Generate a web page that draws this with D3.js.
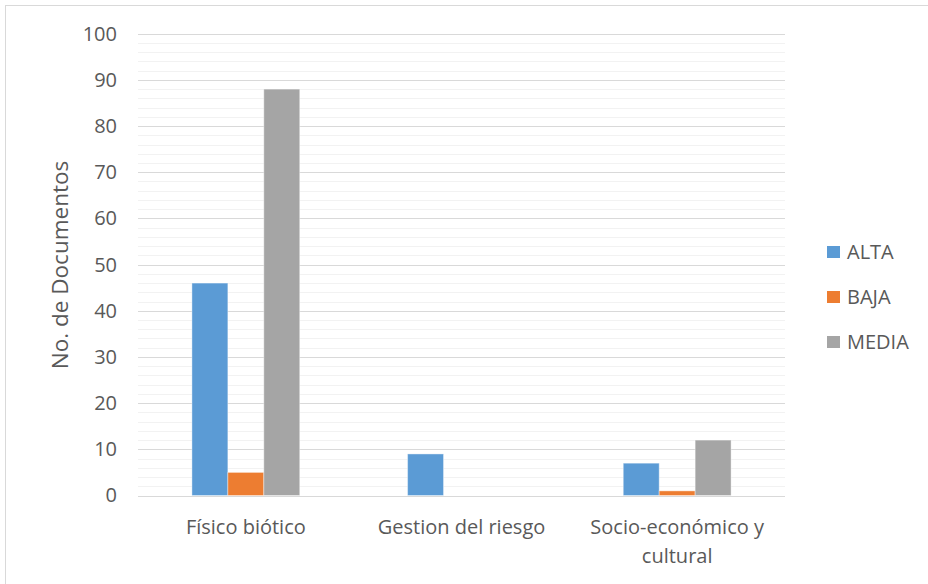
<!DOCTYPE html>
<html><head><meta charset="utf-8">
<script src="https://cdn.jsdelivr.net/npm/d3@7"></script>
<style>body{margin:0;background:#fff}svg{display:block}text{font-family:"Open Sans",sans-serif;fill:#595959}</style>
</head><body><svg id="c" width="928" height="584"></svg>
<script>
const categories = [["Físico biótico"], ["Gestion del riesgo"], ["Socio-económico y", "cultural"]];
const seriesNames = ["ALTA", "BAJA", "MEDIA"];
const alta = [46, 9, 7];
const baja = [5, 0, 1];
const media = [88, 0, 12];
const yTicks = [0, 10, 20, 30, 40, 50, 60, 70, 80, 90, 100];
const colors = ["#5B9BD5", "#ED7D31", "#A5A5A5"];

(function () {
const series = [alta, baja, media];
const svg = d3.select("#c");
svg.append("rect").attr("x", 5.5).attr("y", 5.5).attr("width", 940).attr("height", 600)
  .attr("fill", "none").attr("stroke", "#D9D9D9");

const pl = 138, pr = 785, pt = 33.7, pb = 495.5;
const x = d3.scaleBand().domain(d3.range(categories.length)).range([pl, pr]).paddingInner(0.5).paddingOuter(0.25);
const xs = d3.scaleBand().domain(d3.range(series.length)).range([0, x.bandwidth()]);
const y = d3.scaleLinear().domain([0, 100]).range([pb, pt]);

const minor = d3.range(0, 101, 2).filter(v => v % 10 !== 0);
svg.append("g").selectAll("line").data(minor).join("line")
  .attr("x1", pl).attr("x2", pr).attr("y1", d => Math.round(y(d)) + 0.5).attr("y2", d => Math.round(y(d)) + 0.5)
  .attr("stroke", "#F2F2F2");
svg.append("g").selectAll("line").data(yTicks).join("line")
  .attr("x1", pl).attr("x2", pr).attr("y1", d => Math.round(y(d)) + 0.5).attr("y2", d => Math.round(y(d)) + 0.5)
  .attr("stroke", "#D9D9D9");

const yAxis = svg.append("g").attr("transform", `translate(${pl},0)`)
  .call(d3.axisLeft(y).tickValues(yTicks).tickSize(0).tickPadding(21));
yAxis.select(".domain").remove();
yAxis.selectAll("text").attr("font-size", 20).attr("fill", "#595959").attr("font-family", "Open Sans");

series.forEach((vals, si) => {
  svg.append("g").selectAll("rect").data(vals).join("rect")
    .attr("x", (d, i) => x(i) + xs(si))
    .attr("width", xs.bandwidth())
    .attr("y", d => y(d))
    .attr("height", d => pb - y(d))
    .attr("fill", colors[si])
    .attr("stroke", d => d > 0 ? "#fff" : "none").attr("stroke-opacity", 0.4).attr("stroke-width", 1);
});

const xl = svg.append("g");
categories.forEach((lines, i) => {
  const t = xl.append("text").attr("text-anchor", "middle").attr("font-size", 20)
    .attr("x", x(i) + x.bandwidth() / 2).attr("y", 534);
  lines.forEach((l, k) => t.append("tspan").attr("x", x(i) + x.bandwidth() / 2).attr("dy", k ? 29 : 0).text(l));
});

svg.append("text").attr("transform", "translate(68,265) rotate(-90)").attr("text-anchor", "middle")
  .attr("font-size", 22.5).text("No. de Documentos");

const lg = svg.append("g");
seriesNames.forEach((n, i) => {
  const cy = 252 + i * 45;
  lg.append("rect").attr("x", 827).attr("y", cy - 6).attr("width", 13).attr("height", 12).attr("fill", colors[i]);
  lg.append("text").attr("x", 847).attr("y", cy + 7).attr("font-size", 20).text(n);
});
})();
</script></body></html>
